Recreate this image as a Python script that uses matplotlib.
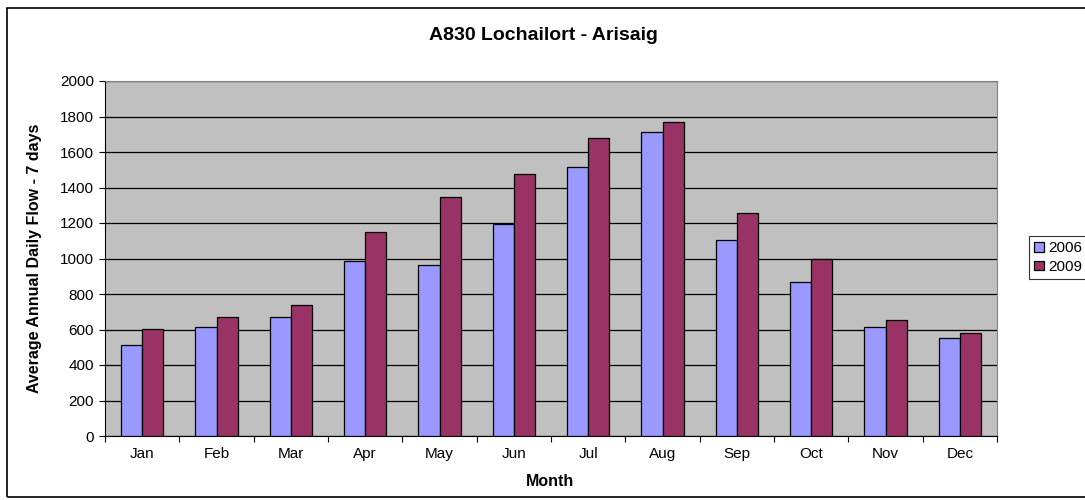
import matplotlib
matplotlib.use("Agg")
import matplotlib.pyplot as plt
from matplotlib.patches import Rectangle
import numpy as np

months = ["Jan", "Feb", "Mar", "Apr", "May", "Jun", "Jul", "Aug", "Sep", "Oct", "Nov", "Dec"]
flow_2006 = [513, 616, 670, 988, 963, 1194, 1518, 1713, 1104, 866, 612, 550]
flow_2009 = [604, 670, 738, 1151, 1345, 1474, 1678, 1767, 1256, 999, 653, 578]
series_labels = ["2006", "2009"]
title = "A830 Lochailort - Arisaig"
xlabel = "Month"
ylabel = "Average Annual Daily Flow - 7 days"
yticks = [0, 200, 400, 600, 800, 1000, 1200, 1400, 1600, 1800, 2000]

plt.rcParams['font.family'] = ['Liberation Sans', 'DejaVu Sans']

W, H = 1085, 500
fig = plt.figure(figsize=(W / 100, H / 100), dpi=100)

# outer chart frame
fig.patches.append(Rectangle((7 / W, 1 - 497 / H), (1100 - 7) / W, (497 - 8) / H,
                             transform=fig.transFigure, fill=False,
                             edgecolor='black', linewidth=1.2, zorder=0))

ax = fig.add_axes([105 / W, 1 - 436 / H, (997 - 105) / W, (436 - 81) / H])
ax.set_facecolor('#C0C0C0')
for s in ['top', 'right']:
    ax.spines[s].set_color('#808080')
for s in ['left', 'bottom']:
    ax.spines[s].set_color('black')

x = np.arange(len(months))
bw = 0.285
ax.bar(x - bw / 2, flow_2006, width=bw, color='#9999FF', edgecolor='black', linewidth=0.9,
       label=series_labels[0], zorder=3)
ax.bar(x + bw / 2, flow_2009, width=bw, color='#993366', edgecolor='black', linewidth=0.9,
       label=series_labels[1], zorder=3)

ax.set_xlim(-0.5, len(months) - 0.5)
ax.set_ylim(0, 2000)
ax.set_yticks(yticks)
ax.set_yticklabels([str(v) for v in yticks], fontsize=11)
ax.yaxis.grid(True, color='black', linewidth=0.9, zorder=1)
ax.set_axisbelow(True)

ax.set_xticks(np.arange(len(months) + 1) - 0.5, minor=False)
ax.set_xticklabels([])
ax.set_xticks(x, minor=True)
ax.set_xticklabels(months, minor=True, fontsize=11)
ax.tick_params(axis='x', which='major', length=4, direction='out', color='black')
ax.tick_params(axis='x', which='minor', length=0, pad=8)
ax.tick_params(axis='y', length=4, direction='out', color='black', pad=4)

fig.text(543 / W, 1 - 36 / H, title, ha='center', va='center', fontsize=14, fontweight='bold')
fig.text(550 / W, 1 - 481 / H, xlabel, ha='center', va='center', fontsize=11.5, fontweight='bold')
fig.text(35 / W, 1 - 258 / H, ylabel, ha='center', va='center', rotation=90,
         fontsize=11.5, fontweight='bold')

leg = fig.legend(loc='upper left', bbox_to_anchor=(1029 / W, 1 - 236 / H),
                 fontsize=11, frameon=True, fancybox=False, edgecolor='black',
                 handlelength=0.6, handleheight=0.6, handletextpad=0.3,
                 borderpad=0.35, labelspacing=0.3, borderaxespad=0)
leg.get_frame().set_linewidth(0.8)

fig.savefig('out.png', dpi=100, facecolor='white')
